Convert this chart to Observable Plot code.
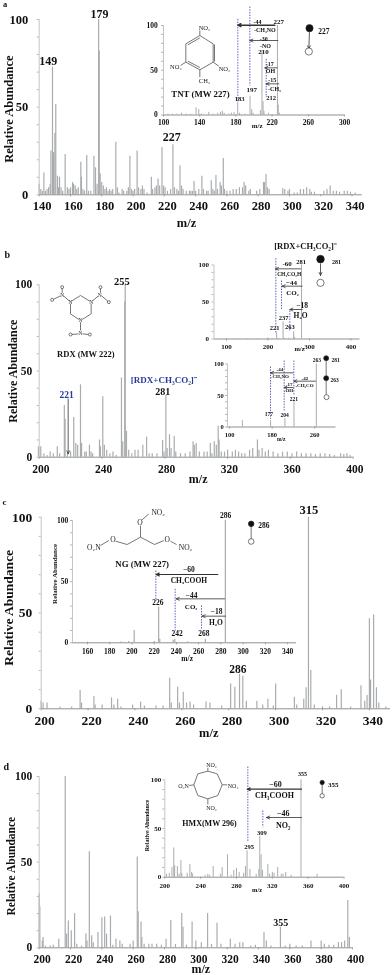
<!DOCTYPE html>
<html><head><meta charset="utf-8">
<script src="https://cdn.jsdelivr.net/npm/d3@7"></script>
<script src="https://cdn.jsdelivr.net/npm/@observablehq/plot@0.6"></script>
<style>
html,body{margin:0;padding:0;background:#fff}
#page{position:relative;width:392px;height:975px;overflow:hidden;background:#fff;filter:blur(0.35px)}
#page svg{position:absolute;left:0;top:0;background:transparent;overflow:visible;max-width:none}
#page svg, #page svg text, #page svg g{font-family:'Liberation Serif','Times New Roman',serif !important;font-variant:normal !important}
</style></head><body><div id="page"></div>
<script>
// ---------- spectra: [m/z, relative abundance] ----------
const peaksA = [[140,6],[141,3],[142,2],[143,12.5],[144,2],[145,3],[146,4],[147,6],[147.5,25],[148.5,72.8],[149.2,24],[150,35],[150.6,51.5],[151.7,10.6],[152.3,4],[153,10],[154,4],[155,2],[156.6,23],[158,4],[159,3],[160,4],[161.3,7],[162,6],[163,5],[164,3],[165,4],[166.6,18.6],[167,10],[168,3],[169,2],[170.4,22.4],[171.5,2],[173,2],[175,22],[176,15.4],[177,6],[178,100],[178.4,82],[179,12],[180,7],[181,5],[182,3],[183,4],[184,2],[185,3],[186,2],[187,3],[189,30],[190,4],[191,1],[193,3],[194,2],[196,2],[197,4],[198,22],[199,3],[200,2],[201,3],[202.6,25],[203.5,4],[205,3],[206,5],[207,3],[209,1],[211.7,10],[212.5,3],[214,4],[215,5],[216,9],[217,5],[218.5,27],[219.5,5],[220.5,4],[222,2],[224,3],[225.5,28.5],[226.5,4],[228,3],[229,2],[230,16.4],[231,5],[232,3],[234,2],[236,2],[237,2],[238,2],[239,7.6],[240,2],[242,3],[244,10.6],[245,3],[247,2],[248,2],[250,8],[251,3],[252,2],[253,11],[254,3],[255.7,7],[256.5,5],[257.7,20.7],[258.5,3],[260,2],[262,2],[264,3],[266,3],[268,4],[270,4],[271,7],[272,5],[274,2],[275,3],[279,2],[281,3],[283.4,7],[284,7],[285,11.6],[286,4],[287,3],[295.7,3.4],[297,3],[299,2],[300,3],[303,1],[305,1],[307,3],[309,3],[311,4],[313,3],[314,1.5],[316,1.5],[322,2],[324,3],[326,5],[328,2],[330,2],[332,1.5],[335,2],[337,2],[339,1.5],[342,1]];
const insetA = [[100,3],[105,1],[110,1],[115,1],[120,2],[125,1],[130,1],[136,8],[139,6],[142,1],[150,3],[155,1],[160,2],[163,3],[165,4],[167,2],[172,1],[175,2],[178,3],[182,14],[184,2],[190,1],[195.6,21],[197.5,6],[199,2],[207,5],[208.8,72],[210,15],[211,4],[216,2],[225.9,100],[226.8,11],[228,2]];
const peaksB = [[199.5,6],[201,6],[203,2],[205,1],[207,3],[209,2],[211.5,6],[213,2],[216,30],[216.5,22],[218,2],[220,3],[222,23],[223.3,8],[224.5,7],[226.3,42],[227,8],[229,3],[230,3],[232,7],[233,3],[234,2],[238.4,10],[239,6],[240.5,35],[241.5,7],[243,4],[245,2],[247,3],[249,1],[252.4,46],[253.2,9],[254.5,90],[254.8,100],[255.6,15],[257,4],[259,2],[261,4],[263,4],[266,7],[268.4,11.6],[270,2],[272,2],[275,2],[278.6,9.7],[279.5,3],[280.7,36],[281.5,5],[283,13],[284,5],[286,12],[287,3],[290,2],[293,2],[296,3],[298,9],[298.8,7],[300,8],[302,3],[305,3],[307,3],[309,8],[310,2],[311.5,9],[312.8,7],[314,18],[314.6,10],[316,3],[318,3],[320,4],[323,3],[325,4],[327,3],[329,2],[331,2],[334,4],[336,5],[339,10],[340,4],[342,5],[344,3],[346,4],[349,3],[352,2],[355,3],[358,3],[361,2],[364,3],[367,2],[370,2],[373,2],[376,1.5],[379,2],[382,2],[385,1.5],[388,1],[392,2],[394,1.5],[396,2],[398,1]];
const insetB1 = [[200,1.5],[210,1],[221,8],[225,1],[236.5,23],[240,1],[250,1],[262,10],[264,2],[281,100],[100,0.6],[120,0.6],[150,0.6],[175,0.6],[300,0.5]];
const insetB2 = [[124,10],[177,10],[204,13],[221,42],[263,100]];
const peaksC = [[200,4],[200.8,3],[202.5,3],[208,1],[213,1],[216.6,9.6],[217.2,3],[222.5,6.4],[223,2],[226,2],[230,5.7],[231,2],[232.6,5],[234,1],[239,2],[242.4,3.5],[244,1.5],[249,1.5],[252,1.5],[254.8,16],[255.5,3],[258.2,11.3],[259,3],[260.6,8.7],[262,3],[263.5,3.5],[265,2],[270.3,3.5],[272,3],[277,1.5],[280.8,13],[282.6,11.3],[284.6,18],[286,17],[287.5,4],[292,4],[294.5,2],[296.7,5],[299,1.5],[300,13],[308,6],[309,2],[312,5],[313,11],[314,100],[315,20],[316.5,2],[320,1],[323,1],[326,7],[328,10],[332,1],[336.4,12],[338,4],[339,7],[340,47],[340.5,15],[341.8,49],[343,11],[344,3],[347,1]];
const insetC = [[180,0.5],[190,0.6],[197,1],[202,10],[220,1],[224,29],[225,3],[237,2],[238.5,3],[250,0.8],[266,3],[284,100],[160,0.5]];
const peaksD = [[200,31.5],[200.4,24],[202,4],[202.5,6],[204,1],[207,1],[209,1.5],[212.5,5],[216.6,100],[217.5,8],[218.6,15.6],[220.5,10],[222.6,20],[224,2],[227,1],[229.8,8],[230.5,4],[232,56],[233.5,7],[234.5,3],[237.5,9],[240,17.5],[241.8,18],[243,8],[245.5,18.5],[247,1.5],[249,5],[251.5,4],[253,2],[258,2],[260,4],[262.6,53],[263.2,21],[265,15],[265.5,6],[267,2],[270,2],[272,2],[275,2],[278,1.5],[281,5],[284,16],[287,2],[291,20],[291.8,12],[294,1.5],[297.6,15],[300,4],[303.5,3],[307.5,20],[310,2],[313.5,14.4],[316,2],[322,5],[325,2],[328,3],[330,3],[335,1],[338,1.5],[343.5,9],[345,4],[348,1],[354,12],[357,1],[360,2],[364,1],[368,1],[373.5,4],[380,4],[382,2],[385,1.5],[388,1.5],[391,3],[393,3],[395,4],[397,27.6],[398,6]];
const insetD = [[202,3],[205,4],[208,10],[210,30],[211,12],[214,11],[216,3],[218,17],[219,4],[225,4],[228,13],[230,5],[231,3],[245,2],[248,3],[250,2],[254,11],[262,3],[264,10],[270,23],[274,2],[277,7],[280,9],[283,5],[288,4],[290,11],[291.8,27],[295,8],[302,3],[305,8],[306,42],[307.5,23],[309,7],[315,13],[317,3],[320,5],[322,4],[326,10],[330,3],[332,3],[335,5],[341,2],[352,100],[370,3]];

// ---------- axis tick values and labels ----------
const ticksA = [140,160,180,200,220,240,260,280,300,320,340];
const ticksB = [200,240,280,320,360,400];
const ticksC = [200,220,240,260,280,300,320,340];
const ticksD = [200,220,240,260,280,300,320,340,360,380,400];
const ticksInA = [100,140,180,220,260,300];
const ticksInB1 = [100,200,300,400];
const ticksInB2 = [100,180,260];
const ticksInC = [160,180,200,220,240,260,280,300,320,340];
const ticksInD = [200,240,280,320,360,400];
const yLabels = [0,50,100];
const yMinor = [0,10,20,30,40,50,60,70,80,90,100];

const serif = "'Liberation Serif','Times New Roman',serif";
const gray = "#a9acae";
const page = document.getElementById("page");

function spectrum({peaks, ticks, minor, left, right, top, bottom, x0, x1, size, color=gray, sw=1.2, dy=0, dx=0, pad=4}) {
  const svg = Plot.plot({
    width: 392, height: 975,
    marginLeft: left, marginRight: 392 - right, marginTop: top, marginBottom: 975 - bottom,
    style: {fontFamily: serif, background: "transparent", overflow: "visible"},
    x: {domain: [x0, x1]},
    y: {domain: [0, 100]},
    marks: [
      Plot.ruleX(peaks, {x: d => d[0], y1: 0, y2: d => d[1], stroke: color, strokeWidth: sw}),
      Plot.ruleY([0], {stroke: "#8d9092", strokeWidth: 1}),
      Plot.ruleX([x0], {stroke: "#c2c4c6", strokeWidth: 1}),
      Plot.axisX({ticks: minor, tickSize: 2, text: null, stroke: "#9a9c9e"}),
      Plot.axisX({ticks, tickSize: 0, tickPadding: 5 + dy, dx, fontSize: size, fontWeight: "bold", fill: "#111", label: null}),
      Plot.axisY({ticks: yMinor, tickSize: 2, text: null, stroke: "#b4b6b8"}),
      Plot.axisY({ticks: yLabels, tickSize: 0, tickPadding: pad, fontSize: size, fontWeight: "bold", fill: "#111", label: null}),
    ]
  });
  page.appendChild(svg);
}

// Annotation sheets: text, arrows and structure drawings on a 3x sketch grid for each panel
function sheet(offset, {texts = [], bonds = [], arrows = [], dashes = [], dots = []}) {
  const T = d => ({text: d[0], x: d[1], y: d[2], size: d[3], color: d[4] || "#111", weight: d[5] || "bold", rotate: d[6] || 0});
  const rows = texts.map(T);
  const svg = Plot.plot({
    width: 392, height: 975, margin: 0,
    style: {fontFamily: serif, background: "transparent", overflow: "visible"},
    x: {domain: [0, 1176], axis: null},
    y: {domain: [-offset * 3, (975 - offset) * 3], range: [0, 975], axis: null},
    r: {type: "identity"},
    marks: [
      Plot.link(dashes, {x1: d => d[0], y1: d => d[1], x2: d => d[0], y2: d => d[2], stroke: "#4a55b8", strokeWidth: 0.9, strokeDasharray: "1.5,1.2"}),
      Plot.link(bonds, {x1: d => d[0], y1: d => d[1], x2: d => d[2], y2: d => d[3], stroke: "#666", strokeWidth: 0.9}),
      Plot.arrow(arrows, {x1: d => d[0], y1: d => d[1], x2: d => d[2], y2: d => d[3], stroke: "#333", strokeWidth: d => d[4] || 0.8, headLength: 5, headAngle: 50, bend: 0}),
      Plot.dot(dots, {x: d => d[0], y: d => d[1], r: d => d[2], fill: d => d[3], stroke: "#222", strokeWidth: 0.6}),
      Plot.text(rows.filter(t => t.weight === "bold" && t.rotate === 0), {x: "x", y: "y", text: "text", fontSize: d => d.size, fill: d => d.color, fontWeight: "bold", textAnchor: "middle"}),
      Plot.text(rows.filter(t => t.weight !== "bold" && t.rotate === 0), {x: "x", y: "y", text: "text", fontSize: d => d.size, fill: d => d.color, fontWeight: "normal", textAnchor: "middle"}),
      Plot.text(rows.filter(t => t.rotate === -90), {x: "x", y: "y", text: "text", fontSize: d => d.size, fill: d => d.color, fontWeight: "bold", rotate: -90, textAnchor: "middle"}),
    ]
  });
  page.appendChild(svg);
}

// ---------- panel a ----------
spectrum({peaks: peaksA, ticks: ticksA, minor: ticksA, left: 38.7, right: 361.7, top: 19, bottom: 194.3, x0: 140, x1: 346.5, size: 12.5, dy: 1, dx: 3, pad: 11});
spectrum({peaks: insetA, ticks: ticksInA, minor: ticksInA, left: 163, right: 344, top: 25, bottom: 114.5, x0: 100, x1: 300, size: 7.5, sw: 1, pad: 5.7});
sheet(0, {
  texts: [["a",14,10,8.5],["149",143,181,12],["179",297,40,12],["227",514,411,12],
    ["Relative Abundance",24,326,12.5,"#111","bold",-90],["m/z",558,667,12.5],["m/z",770,377,7],
    ["227",835,63,7],["210",789,154,7],["197",754,267,7],["183",717,295,6.5],["212",812,292,6.5],
    ["-44",771,66,6],["-CH₃NO",793,89,6],["-30",790,115,6],["-NO",795,136,6],["-17",808,192,6],["OH",810,213,6],["-15",815,240,6],["-CH₃",822,265,6],
    ["TNT (MW 227)",600,281,8.8],["227",970,92,7.5],
    ["NO₂",612,83,6.5,"#222","normal"],["NO₂",672,205,6.5,"#222","normal"],["NO₂",526,200,6.5,"#222","normal"],["CH₃",612,241,6.5,"#222","normal"]],
  bonds: [[598,105,638,130],[638,130,638,185],[642,132,642,183],[638,185,598,208],[598,208,556,185],[556,185,556,130],[556,130,598,105],[562,133,598,112],[562,182,598,201],
    [598,105,598,90],[638,185,655,197],[598,208,598,230],[556,185,540,195]],
  arrows: [[823,74,712,74,1.5],[832,120,748,120],[830,202,793,202],[835,250,797,250],[927,90,925,145]],
  dashes: [[712,55,305],[748,18,255],[797,175,290]],
  dots: [[927,83,3.6,"#111"],[925,153,3.6,"#fff"]]
});

// ---------- panel b ----------
spectrum({peaks: peaksB, ticks: ticksB, minor: ticksB, left: 38.7, right: 352.7, top: 284.3, bottom: 456.7, x0: 200, x1: 400, size: 11.5, dy: 3, dx: 1.7, pad: 7});
spectrum({peaks: insetB1, ticks: ticksInB1, minor: ticksInB1, left: 213.5, right: 359.5, top: 264.5, bottom: 338.5, x0: 70, x1: 422, size: 7, sw: 1, pad: 5});
spectrum({peaks: insetB2, ticks: ticksInB2, minor: ticksInB2, left: 227, right: 335.5, top: 363.5, bottom: 426.5, x0: 96, x1: 300, size: 6.5, sw: 1, pad: 3.7});
sheet(235, {
  texts: [["b",20,57,10],["255",364,137,10.5],["221",198,478,9.5,"#2a3a9a"],["[RDX+CH₃CO₂]⁻",490,433,9,"#2a3a9a"],["281",487,470,10],
    ["Relative Abundance",38,407,12,"#111","bold",-90],["m/z",593,730,12],["RDX (MW 222)",256,355,8.5],
    ["[RDX+CH₃CO₂]⁻",915,32,8.5],["281",902,78,6.5],["-60",860,84,7],["CH₃CO₂H",866,115,5.5],["−44",873,143,7],["CO₂",876,172,7],["−18",905,211,7.5],["H₂O",900,240,7.5],["237",849,247,6.5],["221",822,277,6.5],["263",868,274,6.5],["281",1008,79,6],["m/z",897,340,6.5],
    ["263",949,373,5.5],["281",1005,373,5.5],["263",1002,434,5.5],["-44",838,402,5],["-CH₃NO",838,422,5],["-17",866,448,5],["-OH",864,466,5],["-42",913,428,5],["-CH₃CO",912,450,5],["221",880,492,5.5],["204",852,539,5.5],["177",805,536,5.5],["m/z",842,610,5.5],
    ["N",210,200,5.5,"#333","normal"],["N",272,200,5.5,"#333","normal"],["N",240,255,5.5,"#333","normal"],["N",185,178,5.5,"#333","normal"],["N",298,178,5.5,"#333","normal"],["N",240,292,5.5,"#333","normal"]],
  bonds: [[213,197,240,180],[240,180,268,197],[272,205,272,235],[272,235,245,252],[235,252,210,235],[210,235,210,205],
    [206,196,190,182],[276,196,293,182],[240,260,240,285],
    [185,172,185,158],[180,181,160,191],[300,172,300,158],[303,181,322,197],[234,295,214,297],[246,295,264,297],[977,375,977,420],[977,436,977,477]],
  arrows: [[203,490,203,655],[900,100,825,100],[905,152,845,152],[905,222,868,222],[960,85,960,120],[878,412,810,412],[878,456,851,456],[945,437,880,437]],
  dashes: [[826,68,292],[843,135,222],[868,225,285],[810,393,550],[851,375,525],[880,375,480]],
  dots: [[960,71,3.8,"#111"],[960,142,3.6,"#fff"],[977,368,2.5,"#111"],[977,428,2.5,"#111"],[978,485,2.5,"#fff"],[185,155,1.5,"#fff"],[155,193,1.5,"#fff"],[300,155,1.5,"#fff"],[325,200,1.5,"#fff"],[210,297,1.5,"#fff"],[268,297,1.5,"#fff"]]
});

// ---------- panel c ----------
spectrum({peaks: peaksC, ticks: ticksC, minor: ticksC, left: 40.7, right: 390, top: 516.7, bottom: 708.3, x0: 200, x1: 349, size: 13.5, dy: 2, dx: 3.5, pad: 9});
spectrum({peaks: insetC, ticks: ticksInC, minor: ticksInC, left: 72, right: 296, top: 520, bottom: 642.3, x0: 146.5, x1: 348, size: 7.5, dy: 1, pad: 4.3});
sheet(490, {
  texts: [["c",12,35,9],["315",925,57,12.5],["286",712,537,11.5],["Relative Abundance",24,352,13.5,"#111","bold",-90],["m/z",625,726,12.5],
    ["286",675,75,7.5],["−60",565,238,7.5],["CH₃COOH",565,270,7.5],["−44",573,316,7.5],["CO₂",572,350,7],["−18",648,362,7.5],["H₂O",646,395,7.5],["226",472,337,7.5],["242",530,428,7.5],["268",610,428,7.5],
    ["NG (MW 227)",425,222,8.8],["Relative Abundance",163,250,7,"#111","bold",-90],["m/z",560,503,7.5],["286",790,104,7.5],
    ["O₂N",280,170,7.5,"#222","normal"],["O",337,146,7.5,"#222","normal"],["O",500,146,7.5,"#222","normal"],["NO₂",555,170,7.5,"#222","normal"],["O",418,97,7.5,"#222","normal"],["NO₂",473,65,7.5,"#222","normal"]],
  bonds: [[300,165,325,150],[345,152,380,162],[380,162,420,140],[420,140,462,162],[462,162,490,150],[510,152,528,162],[420,140,420,105],[425,88,445,70],[752,105,752,146]],
  arrows: [[652,252,467,252,1.2],[672,325,527,325],[675,377,605,377]],
  dashes: [[466,240,330],[524,295,420],[603,345,418]],
  dots: [[752,100,2.8,"#111"],[752,153,2.8,"#fff"]]
});

// ---------- panel d ----------
spectrum({peaks: peaksD, ticks: ticksD, minor: ticksD, left: 38.7, right: 352, top: 776, bottom: 947.3, x0: 200, x1: 400, size: 11.5, dy: 2, dx: 3, pad: 7});
spectrum({peaks: insetD, ticks: ticksInD, minor: ticksInD, left: 164.3, right: 343.5, top: 779.3, bottom: 876.7, x0: 200, x1: 400, size: 7, dy: 1, sw: 1, pad: 3.6});
sheet(730, {
  texts: [["d",17,108,10],["355",841,576,10],["Relative Abundance",33,407,11.5,"#111","bold",-90],["m/z",601,716,12],
    ["355",906,132,6],["−60",825,163,8],["CH₃COOH",822,195,8],["−46",848,248,8],["NO₂",848,284,8],["295",746,350,6.5],["309",784,307,6.5],
    ["HMX(MW 296)",627,280,8],["Relative Abundance",440,285,6,"#111","bold",-90],["m/z",770,477,6.5],["355",998,162,7],
    ["NO₂",633,105,6,"#222","normal"],["O₂N",549,168,6,"#222","normal"],["NO₂",698,168,6,"#222","normal"],["NO₂",633,232,6,"#222","normal"]],
  bonds: [[622,122,650,130],[650,130,665,163],[665,163,652,195],[652,195,622,205],[622,205,592,195],[592,195,580,163],[580,163,592,130],[592,130,622,122],
    [622,122,622,112],[622,205,622,222],[665,163,680,163],[580,163,566,165],[965,162,965,190]],
  arrows: [[903,176,740,176,1.1],[903,261,798,261]],
  dashes: [[742,108,335],[787,240,290]],
  dots: [[965,156,2.2,"#111"],[965,196,2.2,"#fff"]]
});
</script></body></html>
